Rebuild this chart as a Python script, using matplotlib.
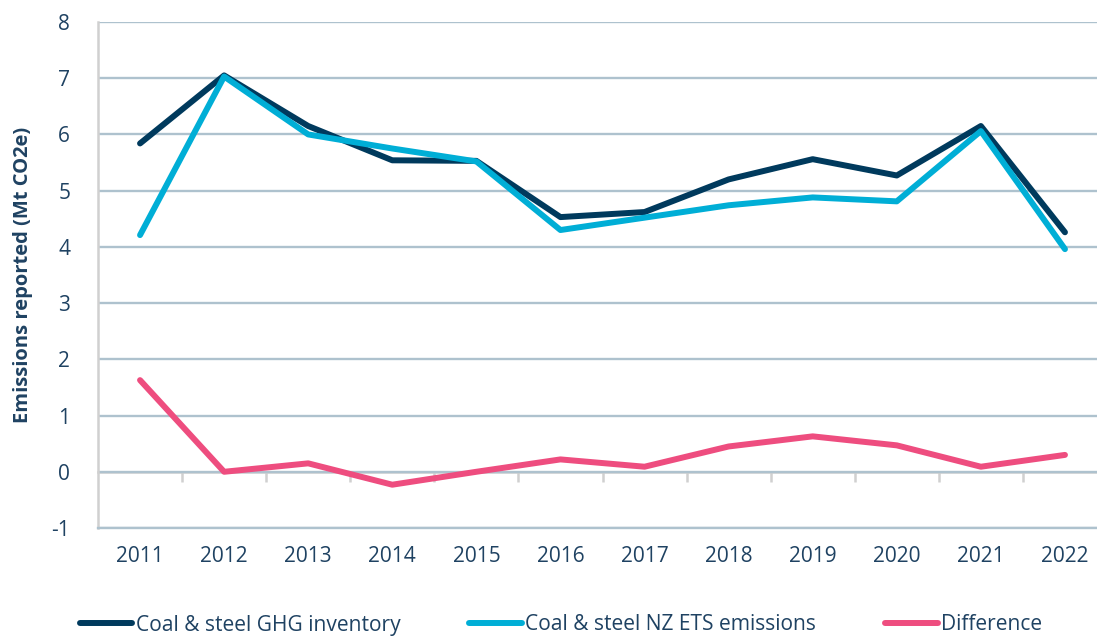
import numpy as np
import matplotlib.pyplot as plt
from matplotlib.ticker import FixedLocator

years = ['2011', '2012', '2013', '2014', '2015', '2016', '2017', '2018', '2019', '2020', '2021', '2022']
ghg_inventory = [5.84, 7.05, 6.15, 5.54, 5.53, 4.53, 4.62, 5.20, 5.56, 5.27, 6.15, 4.26]
nz_ets = [4.21, 7.03, 6.00, 5.75, 5.52, 4.30, 4.52, 4.74, 4.88, 4.81, 6.06, 3.96]
difference = [1.63, 0.00, 0.15, -0.23, 0.00, 0.22, 0.09, 0.45, 0.63, 0.47, 0.09, 0.30]

plt.rcParams['font.family'] = ['Open Sans', 'DejaVu Sans']
text_col = '#1f4262'
grid_col = '#aec2ce'

fig = plt.figure(figsize=(10.97, 6.37), dpi=100)
ax = fig.add_axes([98 / 1097, 109 / 637, 1009 / 1097, 506 / 637])

x = np.arange(len(years))
lw = 4.3
ax.plot(x, ghg_inventory, color='#003a5d', lw=lw, solid_capstyle='round', solid_joinstyle='round',
        label='Coal & steel GHG inventory', zorder=3)
ax.plot(x, nz_ets, color='#00aed6', lw=lw, solid_capstyle='round', solid_joinstyle='round',
        label='Coal & steel NZ ETS emissions', zorder=4)
ax.plot(x, difference, color='#ee4d7f', lw=lw, solid_capstyle='round', solid_joinstyle='round',
        label='Difference', zorder=4)

ax.set_xlim(-0.5, len(years) - 0.5)
ax.set_ylim(-1, 8)
ax.set_yticks(range(-1, 9))
ax.set_yticklabels([str(v) for v in range(-1, 9)])
ax.set_xticks(x)
ax.set_xticklabels(years)

ax.grid(axis='y', color=grid_col, lw=1.7, zorder=0)
ax.set_axisbelow(True)
ax.tick_params(axis='both', length=0, labelsize=15, colors=text_col)
ax.tick_params(axis='y', pad=20)
ax.tick_params(axis='x', pad=13)

for s in ['top', 'right']:
    ax.spines[s].set_visible(False)
ax.spines['left'].set_color('#d0d0d0')
ax.spines['left'].set_linewidth(1.8)
ax.spines['bottom'].set_color(grid_col)
ax.spines['bottom'].set_linewidth(1.7)

# zero line with category boundary tick marks
zero_ax = ax.secondary_xaxis(1 / 9)
zero_ax.spines['bottom'].set_color('#d0d0d0')
zero_ax.spines['bottom'].set_linewidth(1.8)
zero_ax.xaxis.set_major_locator(FixedLocator(x[:-1] + 0.5))
zero_ax.tick_params(axis='x', length=7, width=1.8, color='#d0d0d0', labelbottom=False, direction='out')

ax.set_ylabel('Emissions reported (Mt CO2e)', fontsize=14.5, fontweight='bold', color=text_col, labelpad=13)

fig.legend(loc='center left', bbox_to_anchor=(80 / 1097, 12 / 637), ncol=3, frameon=False,
           fontsize=15.1, handlelength=2.5, handletextpad=0.15, columnspacing=3.3,
           borderpad=0, borderaxespad=0, labelcolor=text_col)

fig.savefig('out.png', dpi=100)
